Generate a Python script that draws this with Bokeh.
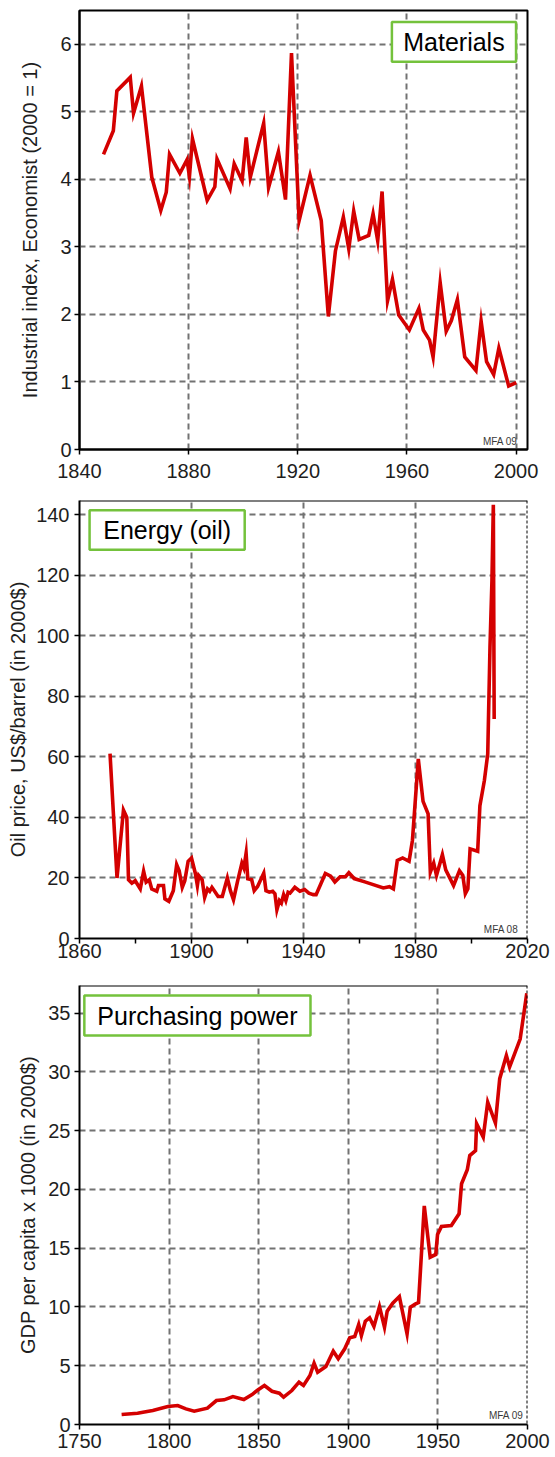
from bokeh.plotting import figure
from bokeh.models import Range1d, FixedTicker, BoxAnnotation, Label, Span
from bokeh.layouts import column
from bokeh.embed import file_html
from bokeh.resources import INLINE

# ---------------- data ----------------
mat_year = [1848.8, 1852.4, 1853.7, 1858.6, 1859.8, 1862.7, 1866.5, 1869.8, 1871.8, 1873.0,
            1876.8, 1879.4, 1880.3, 1881.4, 1886.8, 1889.6, 1890.4, 1895.2, 1896.7, 1899.6,
            1901.1, 1902.6, 1907.5, 1909.3, 1912.9, 1915.5, 1917.7, 1920.5, 1924.5, 1928.6,
            1931.2, 1933.8, 1936.7, 1938.7, 1940.5, 1942.5, 1946.0, 1947.6, 1949.3, 1950.9,
            1952.9, 1954.7, 1957.0, 1960.9, 1964.4, 1966.0, 1968.3, 1969.6, 1972.2, 1974.4,
            1976.3, 1978.5, 1981.2, 1985.3, 1987.2, 1989.2, 1991.8, 1993.7, 1997.3, 2000.1]
mat_index = [4.37, 4.72, 5.31, 5.51, 4.98, 5.38, 4.03, 3.54, 3.81, 4.37,
             4.09, 4.29, 4.04, 4.60, 3.69, 3.89, 4.30, 3.86, 4.23, 3.98,
             4.62, 4.03, 4.83, 3.88, 4.41, 3.70, 5.87, 3.39, 4.06, 3.39,
             1.97, 2.94, 3.44, 2.97, 3.53, 3.11, 3.17, 3.49, 3.09, 3.82,
             2.20, 2.52, 1.99, 1.77, 2.09, 1.77, 1.62, 1.37, 2.47, 1.75,
             1.91, 2.22, 1.37, 1.17, 1.90, 1.30, 1.11, 1.50, 0.94, 0.99]

oil_year = [1870.9, 1873.4, 1875.7, 1876.9, 1877.5, 1878.7, 1879.9, 1881.7, 1882.9, 1883.8,
            1884.9, 1885.8, 1887.6, 1888.2, 1890.0, 1890.5, 1891.9, 1893.5, 1894.7, 1895.6,
            1896.7, 1897.6, 1898.8, 1900.0, 1901.4, 1902.1, 1902.6, 1903.8, 1904.7, 1905.7,
            1906.5, 1907.3, 1908.5, 1909.5, 1911.0, 1912.8, 1913.9, 1915.0, 1916.5, 1918.0,
            1918.7, 1919.5, 1920.1, 1921.5, 1922.4, 1923.6, 1925.8, 1926.6, 1927.8, 1929.0,
            1929.8, 1930.5, 1931.4, 1932.1, 1932.9, 1933.7, 1934.5, 1935.2, 1936.9, 1938.7,
            1940.4, 1941.9, 1943.5, 1944.5, 1947.8, 1949.7, 1951.2, 1953.1, 1955.0, 1956.2,
            1958.1, 1961.9, 1968.5, 1970.7, 1972.1, 1973.5, 1975.4, 1977.7, 1978.9, 1981.0,
            1982.7, 1984.5, 1985.3, 1986.5, 1987.5, 1989.6, 1990.8, 1993.6, 1995.7, 1996.9,
            1997.8, 1998.7, 1999.5, 2002.2, 2003.0, 2004.6, 2005.8, 2006.6, 2007.3, 2007.8,
            2008.1]
oil_price = [61.1, 20.0, 42.4, 40.0, 19.4, 18.3, 19.1, 16.4, 22.2, 18.6,
             19.4, 16.4, 15.6, 17.5, 17.5, 13.1, 12.3, 15.8, 24.4, 22.4,
             16.9, 19.1, 25.5, 26.6, 21.4, 17.5, 20.8, 19.4, 13.6, 16.4,
             15.6, 16.9, 15.3, 13.9, 13.9, 20.0, 15.8, 12.8, 19.1, 24.9,
             23.3, 28.2, 19.7, 19.4, 15.8, 17.2, 21.6, 15.8, 15.3, 15.6,
             14.8, 9.5, 12.5, 11.7, 14.5, 12.5, 15.3, 15.0, 16.9, 15.6,
             16.2, 15.0, 14.5, 14.5, 21.5, 20.6, 18.7, 20.4, 20.4, 21.7,
             19.8, 18.7, 16.7, 17.1, 16.4, 25.8, 26.6, 25.5, 32.4, 59.3,
             45.3, 41.2, 21.9, 24.9, 20.8, 27.7, 22.7, 17.5, 22.4, 20.8,
             14.8, 16.4, 29.6, 28.8, 43.9, 52.2, 61.0, 96.2, 118.2, 143.3,
             72.5]

gdp_year = [1773.5, 1782.4, 1785.4, 1790.9, 1799.3, 1804.8, 1809.4, 1814.0, 1821.4, 1826.4,
            1830.7, 1835.6, 1841.7, 1846.3, 1849.1, 1853.2, 1857.4, 1861.5, 1863.9, 1868.5,
            1872.5, 1875.0, 1878.6, 1880.9, 1882.9, 1887.5, 1891.6, 1894.4, 1898.0, 1900.8,
            1903.6, 1905.8, 1907.3, 1909.5, 1911.9, 1914.3, 1917.4, 1920.2, 1921.7, 1924.8,
            1928.5, 1932.8, 1934.6, 1937.3, 1939.2, 1942.4, 1945.7, 1948.8, 1949.8, 1952.0,
            1957.5, 1961.8, 1963.2, 1966.4, 1967.8, 1971.0, 1971.6, 1975.3, 1977.8, 1982.1,
            1984.5, 1988.2, 1990.0, 1995.9, 1999.6]
gdp_value = [0.85, 0.96, 1.05, 1.19, 1.53, 1.62, 1.33, 1.13, 1.39, 2.04,
             2.10, 2.38, 2.13, 2.55, 2.89, 3.32, 2.83, 2.66, 2.32, 2.89,
             3.60, 3.32, 4.17, 5.22, 4.45, 4.94, 6.24, 5.59, 6.44, 7.38,
             7.49, 8.51, 7.57, 8.79, 9.08, 8.34, 10.04, 8.28, 9.64, 10.33,
             10.89, 7.72, 9.98, 10.24, 10.38, 18.6, 14.24, 14.47, 16.17, 16.85,
             16.94, 17.93, 20.49, 21.68, 22.89, 23.3, 25.6, 24.45, 27.43, 25.65,
             29.43, 31.4, 30.42, 32.8, 36.7]

mat_xticks = [1840, 1880, 1920, 1960, 2000]
mat_yticks = [0, 1, 2, 3, 4, 5, 6]
oil_xticks = [1860, 1900, 1940, 1980, 2020]
oil_xminor = [1880, 1920, 1960, 2000]
oil_yticks = [0, 20, 40, 60, 80, 100, 120, 140]
gdp_xticks = [1750, 1800, 1850, 1900, 1950, 2000]
gdp_yticks = [0, 5, 10, 15, 20, 25, 30, 35]

FONT = "Liberation Sans"
RED = "#d40000"
GREEN = "#74c23c"
GRID = "#727272"
TXT = "#1e1e1e"


def make_panel(xs, ys, xr, yr, xticks, xminor, yticks, ylabel, height,
               bt, bb, bl, br, ylab_standoff, ylab_tick_standoff, xlab_standoff,
               title, box, mfa, mfa_xy, solid_outline):
    p = figure(width=555, height=height, output_backend="svg", toolbar_location=None,
               x_range=Range1d(*xr), y_range=Range1d(*yr),
               min_border_top=bt, min_border_bottom=bb, min_border_left=bl,
               min_border_right=br, background_fill_color="white",
               border_fill_color="white")
    if solid_outline:
        p.outline_line_color = "black"
        p.outline_line_width = 2
    else:
        p.outline_line_color = None
        p.add_layout(Span(location=yr[1], dimension="width", line_color="black",
                          line_width=2))
        p.add_layout(Span(location=xr[1], dimension="height", line_color="black",
                          line_width=2, line_dash="3 2"))

    p.xaxis.ticker = FixedTicker(ticks=xticks, minor_ticks=xminor)
    p.yaxis.ticker = FixedTicker(ticks=yticks)
    for ax in (p.xaxis[0], p.yaxis[0]):
        ax.axis_line_color = "black"
        ax.axis_line_width = 2
        ax.major_tick_line_color = "black"
        ax.major_tick_line_width = 1.5
        ax.major_tick_out = 5
        ax.major_tick_in = 0
        ax.minor_tick_line_color = "black"
        ax.minor_tick_line_width = 1.5
        ax.minor_tick_out = 5
        ax.minor_tick_in = 0
        ax.major_label_text_font = FONT
        ax.major_label_text_font_size = "20px"
        ax.major_label_text_color = TXT
        ax.axis_label_text_font = FONT
        ax.axis_label_text_font_size = "20px"
        ax.axis_label_text_font_style = "normal"
        ax.axis_label_text_color = TXT
    p.yaxis.minor_tick_line_color = None
    if not xminor:
        p.xaxis.minor_tick_line_color = None
    p.yaxis.axis_label = ylabel
    p.yaxis.axis_label_standoff = ylab_standoff
    p.yaxis.major_label_standoff = ylab_tick_standoff
    p.xaxis.major_label_standoff = xlab_standoff

    p.grid.grid_line_color = GRID
    p.grid.grid_line_width = 2
    p.grid.grid_line_dash = "6 4"

    p.line(xs, ys, line_color=RED, line_width=3.6, line_join="miter")

    l, r, b, t = box
    p.add_layout(BoxAnnotation(left=l, right=r, bottom=b, top=t, fill_color="white",
                               fill_alpha=1.0, line_color=GREEN, line_width=2.5,
                               line_alpha=1.0))
    p.add_layout(Label(x=(l + r) / 2, y=(b + t) / 2, text=title, text_align="center",
                       text_baseline="middle", text_font=FONT, text_font_size="25px",
                       text_color="black"))
    p.add_layout(Label(x=mfa_xy[0], y=mfa_xy[1], text=mfa, text_align="right",
                       text_baseline="bottom", text_font=FONT, text_font_size="10px",
                       text_color="#3a3a3a"))
    return p


p1 = make_panel(mat_year, mat_index, (1840, 2004.2), (0, 6.5), mat_xticks, [], mat_yticks,
                "Industrial index, Economist (2000 = 1)", 488,
                10, 39, 79, 25, 16, 3, 9,
                "Materials", (1954.5, 2000.0, 5.74, 6.33), "MFA 09", (2000.5, 0.03), True)

p2 = make_panel(oil_year, oil_price, (1860, 2020), (0, 144.7), oil_xticks, oil_xminor, oil_yticks,
                "Oil price, US$/barrel (in 2000$)", 483,
                12, 33, 77, 26, 4, 5, 0,
                "Energy (oil)", (1863.6, 1919.0, 128.4, 141.5), "MFA 08", (2016.7, 1.3), False)

p3 = make_panel(gdp_year, gdp_value, (1750, 2000), (0, 37.36), gdp_xticks, [], gdp_yticks,
                "GDP per capita x 1000 (in 2000$)", 485,
                14, 32, 76, 28, 6, 4, 4,
                "Purchasing power", (1752.7, 1878.9, 33.1, 36.5), "MFA 09", (1997.7, 0.34), False)

layout = column(p1, p2, p3, spacing=0)
open("out.html", "w").write(file_html(layout, INLINE))
